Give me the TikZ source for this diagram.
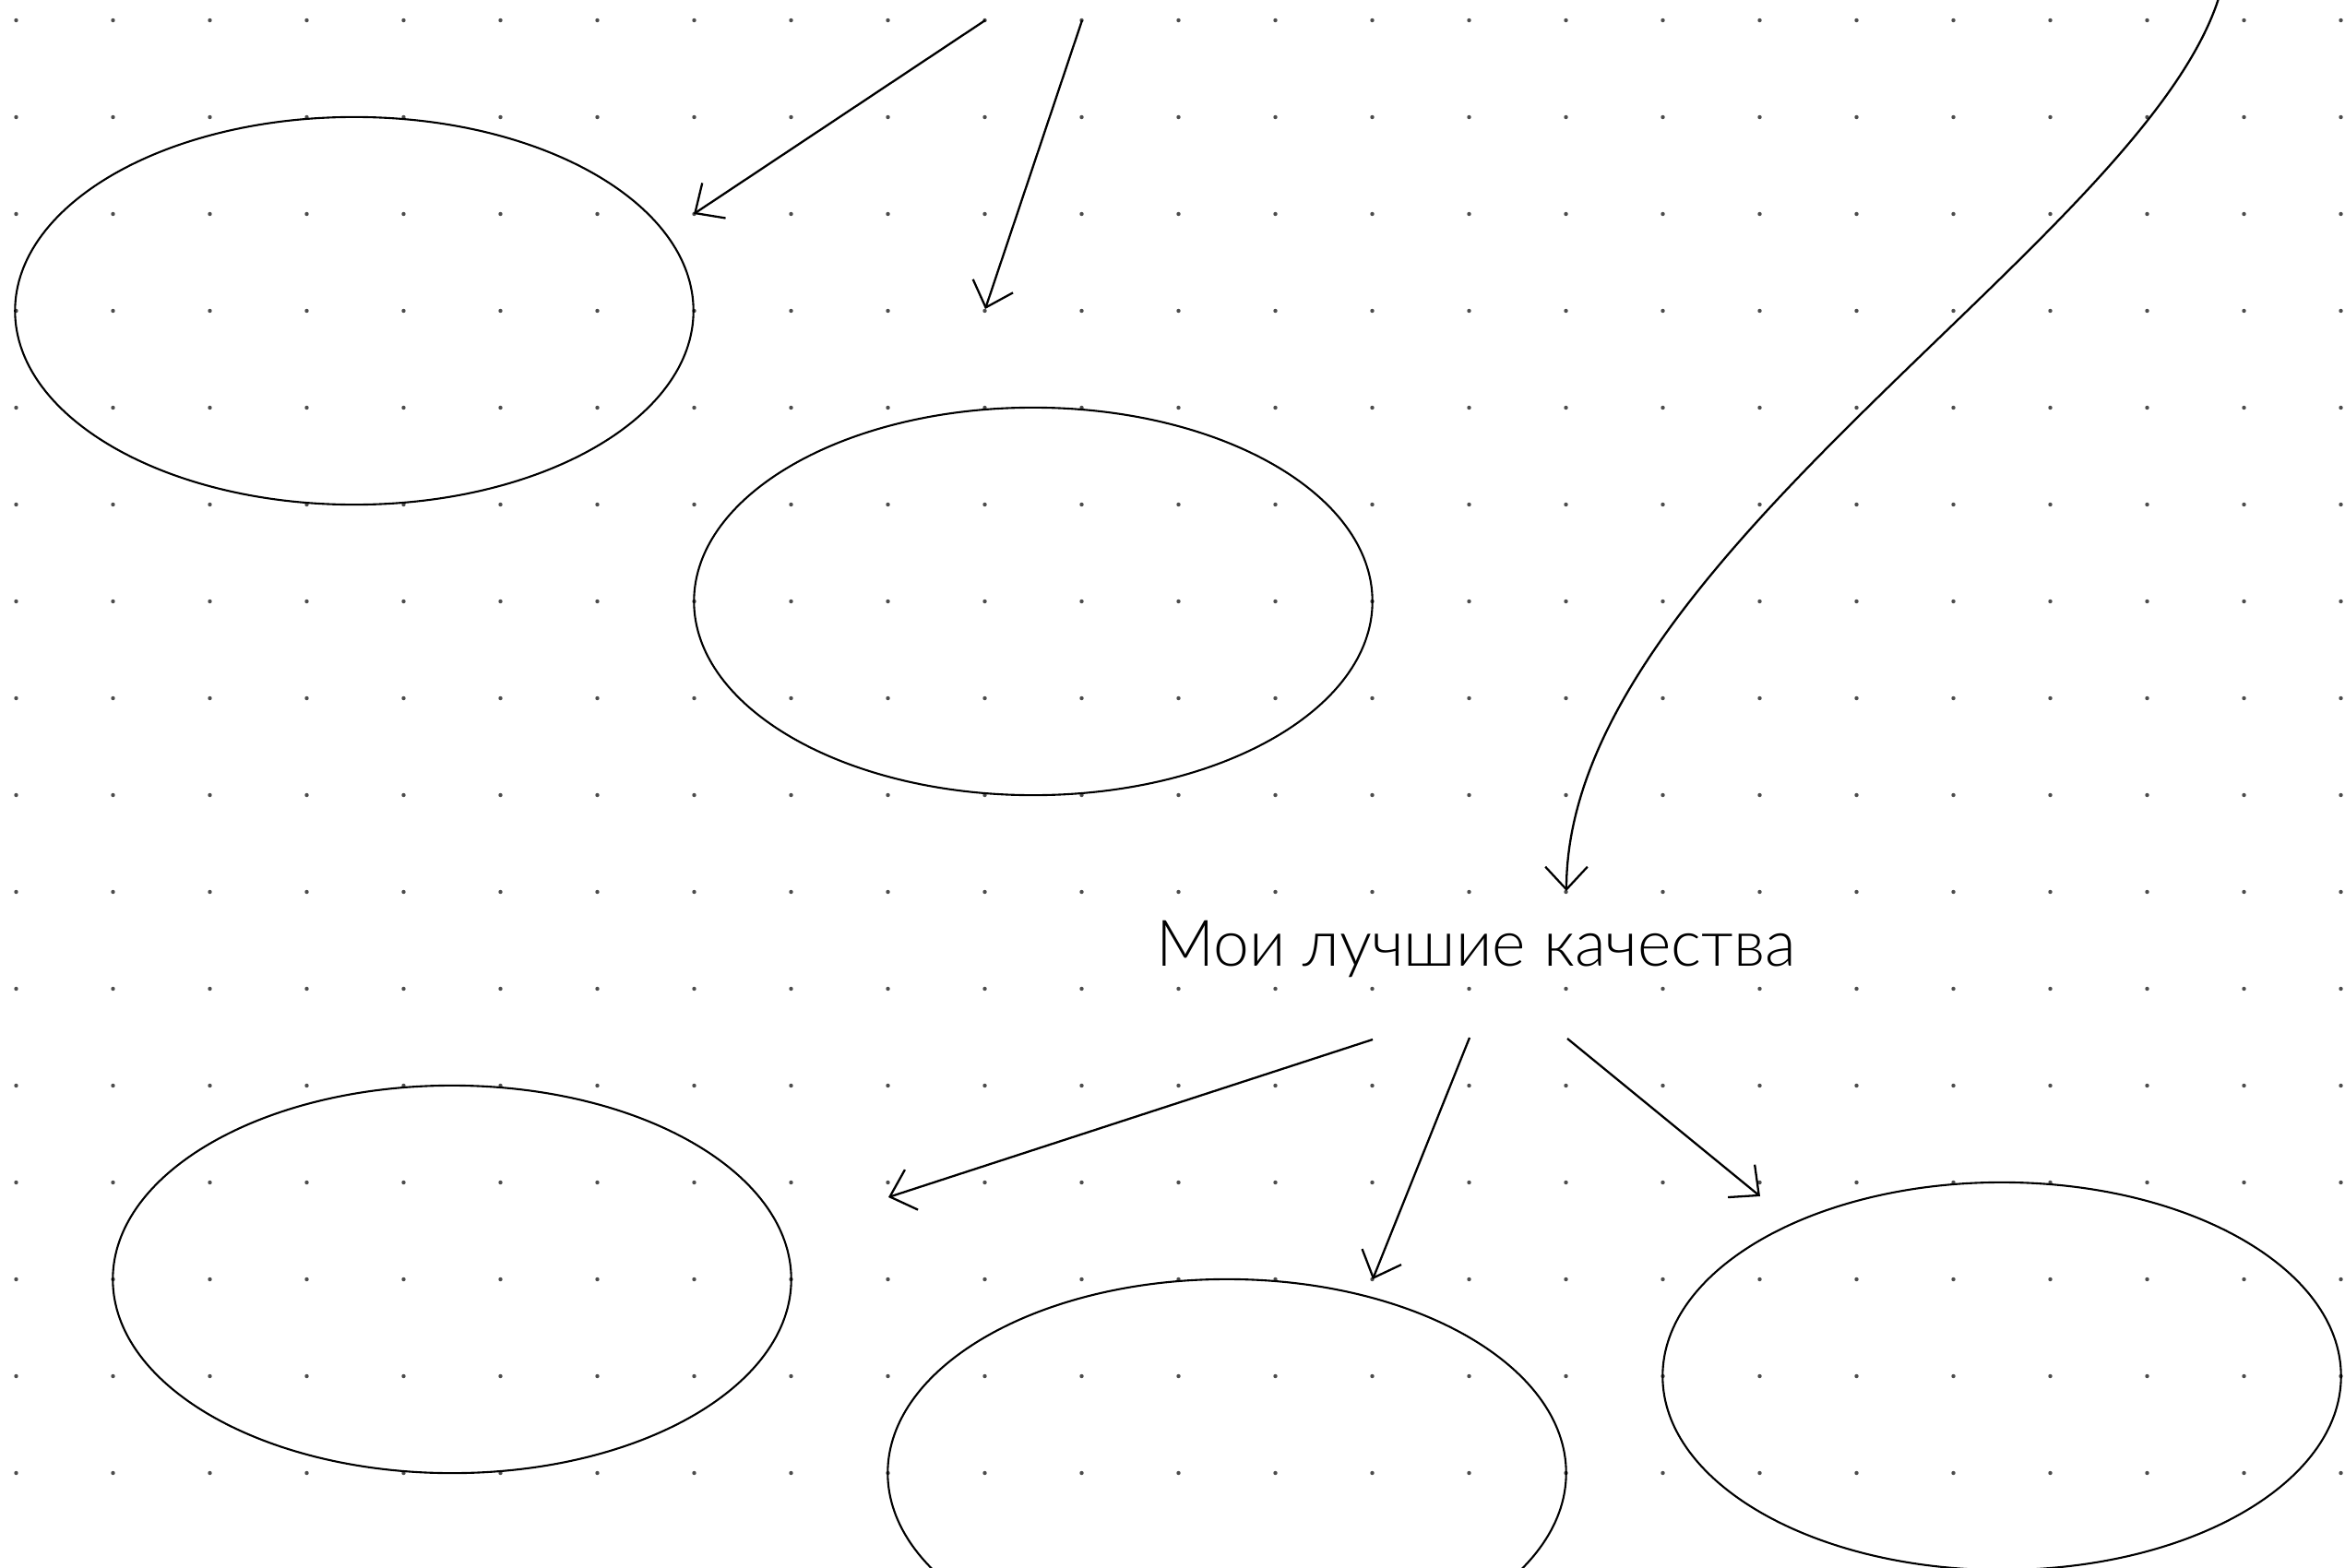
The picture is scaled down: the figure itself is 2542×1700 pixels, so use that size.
\documentclass[tikz,border=0pt]{standalone}
\usepackage{fontspec}
\setmainfont{Lato Light}
\usetikzlibrary{shapes.geometric,arrows.meta}
\begin{document}
\begin{tikzpicture}[x=0.01cm,y=-0.01cm,
  oval/.style={draw, ellipse, minimum width=7.35cm, minimum height=4.2cm, inner sep=0pt, line width=0.6pt},
  conn/.style={line width=0.65pt, -{Straight Barb[length=7pt,width=13pt,line width=0.65pt]}},
  gdot/.style={fill=black!70}]
\path[use as bounding box] (0,0) rectangle (2542,1700);
\clip (0,0) rectangle (2542,1700);
\fill[white] (0,0) rectangle (2542,1700);
\foreach \i in {0,...,24}{\foreach \j in {0,...,15}{\fill[gdot] (17.5+105*\i, 22+105*\j) circle[radius=2.2];}}
\node[oval] (e1) at (384,337) {};
\node[oval] (e2) at (1120,652) {};
\node[oval] (e3) at (490,1387) {};
\node[oval] (e4) at (1330,1597) {};
\node[oval] (e5) at (2170,1492) {};
\node[anchor=base, font=\fontsize{19.8}{24}\selectfont, inner sep=0pt] (title) at (1600,1047) {Мои лучшие качества};
\coordinate (a1s) at (1068,22); \coordinate (a1e) at (752,232);
\coordinate (a2s) at (1173,22); \coordinate (a2e) at (1068,335);
\coordinate (a3s) at (2410,-20); \coordinate (a3e) at (1698,966);
\coordinate (b1s) at (1488,1127); \coordinate (b1e) at (963,1298);
\coordinate (b2s) at (1593,1125); \coordinate (b2e) at (1488,1387);
\coordinate (b3s) at (1699,1126); \coordinate (b3e) at (1908,1297);
\draw[conn] (a1s) -- (a1e);
\draw[conn] (a2s) -- (a2e);
\draw[conn] (a3s) .. controls (2350,245) and (1698,600) .. (a3e);
\draw[conn] (b1s) -- (b1e);
\draw[conn] (b2s) -- (b2e);
\draw[conn] (b3s) -- (b3e);
\end{tikzpicture}
\end{document}
